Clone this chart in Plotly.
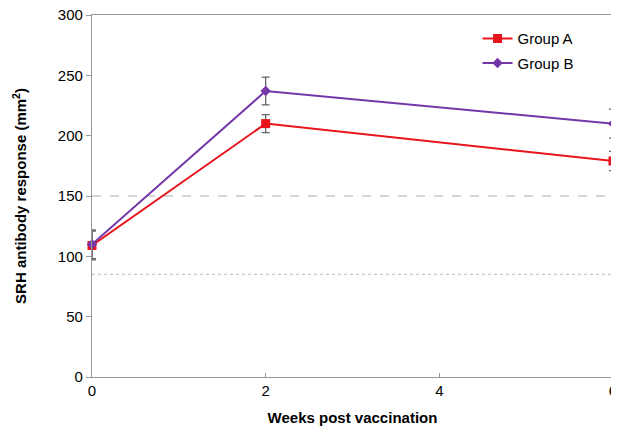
import plotly.graph_objects as go

weeks = [0, 2, 6]
group_a = [109, 210, 179]
group_a_err = [12, 7.5, 8]
group_b = [110, 237, 210]
group_b_err = [12, 11.5, 12]
ref_dashed = 150
ref_dotted = 85
y_ticks = [0, 50, 100, 150, 200, 250, 300]
x_ticks = [0, 2, 4, 6]

red = "#E8141C"
purple = "#7436A8"
err_col = "#666666"

fig = go.Figure()

fig.add_trace(go.Scatter(
    x=[0, 6], y=[ref_dashed, ref_dashed], mode="lines",
    line=dict(color="#C8C8C8", width=1.5, dash="dash"),
    showlegend=False, hoverinfo="skip"))
fig.add_trace(go.Scatter(
    x=[0, 6], y=[ref_dotted, ref_dotted], mode="lines",
    line=dict(color="#C8C8C8", width=1.2, dash="dot"),
    showlegend=False, hoverinfo="skip"))

fig.add_trace(go.Scatter(
    x=weeks, y=group_a, mode="lines+markers", name="Group A", legendgroup="a",
    line=dict(color=red, width=2),
    marker=dict(symbol="square", size=9, color=red),
    error_y=dict(type="data", array=group_a_err, color=err_col, thickness=1.3, width=4),
    cliponaxis=False))
fig.add_trace(go.Scatter(
    x=weeks, y=group_b, mode="lines+markers", name="Group B", legendgroup="b",
    line=dict(color=purple, width=2),
    marker=dict(symbol="diamond", size=8, color=purple),
    error_y=dict(type="data", array=group_b_err, color=err_col, thickness=1.3, width=4),
    cliponaxis=False))

font_family = "Liberation Sans, Arial, sans-serif"

fig.update_layout(
    width=611, height=421,
    margin=dict(l=84, r=6, t=7, b=52),
    paper_bgcolor="white", plot_bgcolor="white",
    font=dict(family=font_family, size=15, color="#000"),
    showlegend=True,
    legend=dict(x=0.74, y=0.98, xanchor="left", yanchor="top",
                bgcolor="rgba(0,0,0,0)", font=dict(size=15),
                tracegroupgap=2),
    xaxis=dict(range=[0, 6], tickvals=x_ticks, ticks="inside", ticklen=4,
               tickcolor="#999", showgrid=False, zeroline=False,
               showline=True, linecolor="#999", linewidth=1.2, mirror=True,
               tickfont=dict(size=15), automargin=False, ticklabeloverflow="allow",
               title=dict(text="<b>Weeks post vaccination</b>", font=dict(size=15), standoff=14)),
    yaxis=dict(range=[0, 300], tickvals=y_ticks, ticks="outside", ticklen=5,
               tickcolor="#999", showgrid=False, zeroline=False,
               showline=True, linecolor="#999", linewidth=1.2, mirror=True,
               tickfont=dict(size=15), automargin=False, ticklabeloverflow="allow",
               title=dict(text="<b>SRH antibody response (mm<sup>2</sup>)</b>", font=dict(size=15), standoff=27)),
)

fig.write_html("out.html")
